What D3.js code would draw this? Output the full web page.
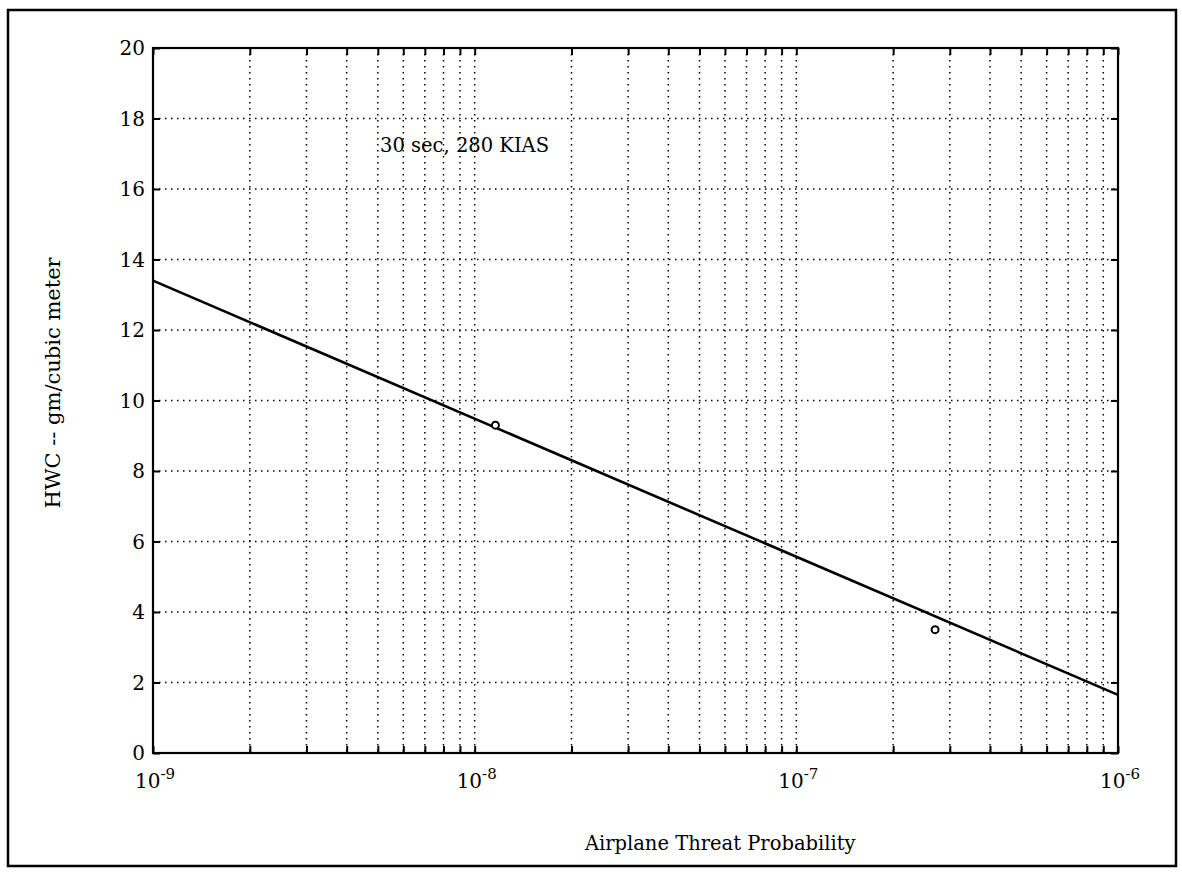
<!DOCTYPE html>
<html lang="en">
<head>
<meta charset="UTF-8">
<title>HWC vs Airplane Threat Probability</title>
<style>
  body { margin: 0; background: #fff; }
  svg text { font-family: "DejaVu Serif", "Liberation Serif", serif; fill: #000; }
</style>
</head>
<body>
<div id="viz"></div>
<script src="https://d3js.org/d3.v7.min.js"></script>
<script>
  // data
  const xDecades = [1e-9, 1e-8, 1e-7, 1e-6]
  const xDecadeLabels = ["-9", "-8", "-7", "-6"]
  const yTicks = [0, 2, 4, 6, 8, 10, 12, 14, 16, 18, 20]
  const fitX = [1e-9, 1e-6]
  const fitY = [13.4, 1.65]
  const pointX = [1.16e-8, 2.7e-7]
  const pointY = [9.3, 3.5]
  const note = "30 sec, 280 KIAS"

  const W = 1182, H = 878
  const margin = {top: 48, right: 64, bottom: 125, left: 153}
  const width = W - margin.left - margin.right
  const height = H - margin.top - margin.bottom

  const svg = d3.select("#viz").append("svg")
    .attr("width", W).attr("height", H)

  // outer frame
  svg.append("rect")
    .attr("x", 8).attr("y", 10).attr("width", 1168).attr("height", 856)
    .attr("fill", "none").attr("stroke", "#000").attr("stroke-width", 2.5)

  const g = svg.append("g")
    .attr("transform", "translate(" + margin.left + "," + margin.top + ")")

  const x = d3.scaleLog().domain([1e-9, 1e-6]).range([0, width])
  const y = d3.scaleLinear().domain([0, 20]).range([height, 0])

  // every 1..9 x decade position
  let xGrid = []
  for (let e = -9; e < -6; e++) {
    for (let k = 1; k < 10; k++) xGrid.push(k * Math.pow(10, e))
  }
  xGrid.push(1e-6)

  // dotted grid
  g.append("g").selectAll("line.vg")
    .data(xGrid.slice(1, -1))
    .enter().append("line")
    .attr("x1", d => x(d)).attr("x2", d => x(d))
    .attr("y1", 0).attr("y2", height)
    .attr("stroke", "#000").attr("stroke-width", 1.5)
    .attr("stroke-dasharray", "1.5,4.5")

  g.append("g").selectAll("line.hg")
    .data(yTicks.slice(1, -1))
    .enter().append("line")
    .attr("x1", 0).attr("x2", width)
    .attr("y1", d => y(d)).attr("y2", d => y(d))
    .attr("stroke", "#000").attr("stroke-width", 1.5)
    .attr("stroke-dasharray", "1.5,4.5")

  // inward ticks on all four sides
  const tl = 7
  g.append("g").call(d3.axisBottom(x).tickValues(xGrid).tickSize(-tl).tickFormat(""))
    .attr("transform", "translate(0," + height + ")")
  g.append("g").call(d3.axisTop(x).tickValues(xGrid).tickSize(-tl).tickFormat(""))
  g.append("g").call(d3.axisLeft(y).tickValues(yTicks).tickSize(-tl).tickFormat(""))
  g.append("g").call(d3.axisRight(y).tickValues(yTicks).tickSize(-tl).tickFormat(""))
    .attr("transform", "translate(" + width + ",0)")
  g.selectAll(".domain").remove()
  g.selectAll(".tick line").attr("stroke", "#000").attr("stroke-width", 2)

  // plot frame
  g.append("rect")
    .attr("width", width).attr("height", height)
    .attr("fill", "none").attr("stroke", "#000").attr("stroke-width", 2.2)

  // y tick labels
  g.append("g").selectAll("text")
    .data(yTicks)
    .enter().append("text")
    .attr("x", -8).attr("y", d => y(d))
    .attr("dy", "0.36em")
    .attr("text-anchor", "end")
    .attr("font-size", 20)
    .text(d => d)

  // x tick labels 10^n
  const xl = g.append("g").selectAll("text")
    .data(xDecades)
    .enter().append("text")
    .attr("x", (d, i) => x(d) + 2).attr("y", height + 35)
    .attr("text-anchor", "middle")
    .attr("font-size", 20)
  xl.append("tspan").text("10")
  xl.append("tspan").attr("dy", -9).attr("font-size", 15).text((d, i) => xDecadeLabels[i])

  // fitted line
  const line = d3.line().x(d => x(d[0])).y(d => y(d[1]))
  g.append("path")
    .datum(d3.zip(fitX, fitY))
    .attr("d", line)
    .attr("fill", "none").attr("stroke", "#000").attr("stroke-width", 2.6)

  // data points
  g.append("g").selectAll("circle")
    .data(d3.zip(pointX, pointY))
    .enter().append("circle")
    .attr("cx", d => x(d[0])).attr("cy", d => y(d[1]))
    .attr("r", 3.5)
    .attr("fill", "#fff").attr("stroke", "#000").attr("stroke-width", 2)

  // annotation
  g.append("text")
    .attr("x", x(5.08e-9)).attr("y", y(17.05))
    .attr("font-size", 19.5)
    .text(note)

  // axis titles
  svg.append("text")
    .attr("x", margin.left + x(5.8e-8)).attr("y", 850)
    .attr("text-anchor", "middle")
    .attr("font-size", 19.5)
    .text("Airplane Threat Probability")

  svg.append("text")
    .attr("transform", "translate(60," + (margin.top + y(10.5)) + ") rotate(-90)")
    .attr("text-anchor", "middle")
    .attr("font-size", 21)
    .text("HWC -- gm/cubic meter")
</script>
</body>
</html>
